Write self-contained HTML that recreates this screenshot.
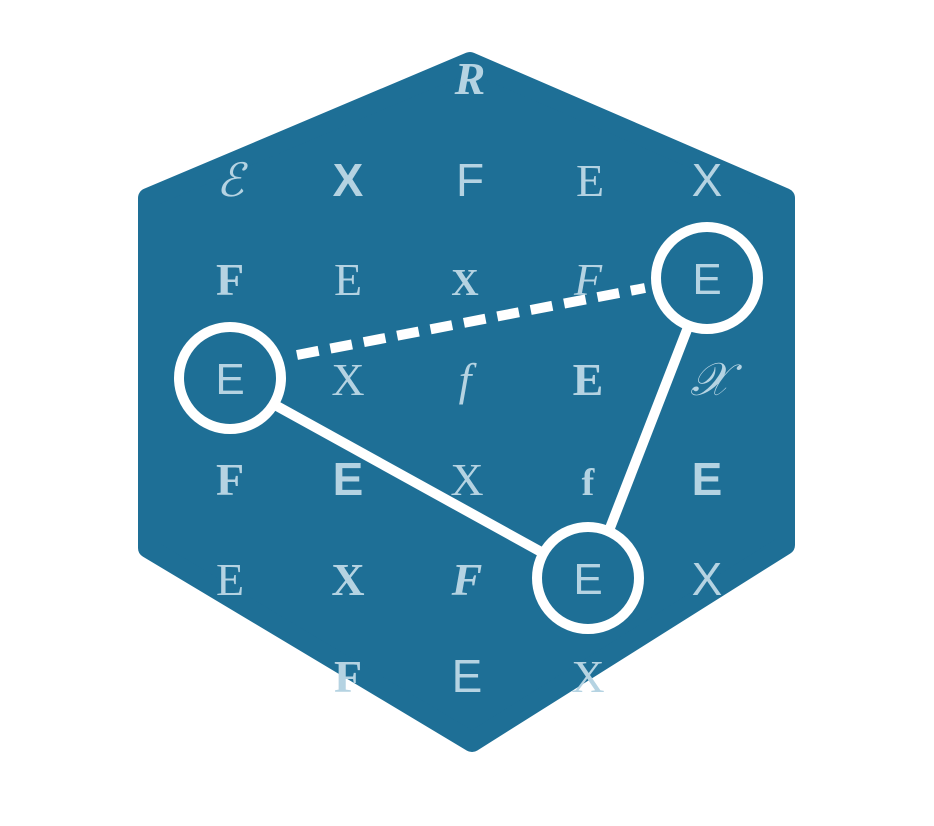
<!DOCTYPE html>
<html><head><style>body{margin:0;background:#fff}</style></head><body>
<svg width="934" height="821" viewBox="0 0 934 821" xmlns="http://www.w3.org/2000/svg">
<path d="M470,62 L785,198 L785,545 L472,742 L148,548 L148,198 Z" fill="#1e6f96" stroke="#1e6f96" stroke-width="20" stroke-linejoin="round"/>
<g fill="#b5d3e2" font-size="46" text-anchor="middle" font-family="Liberation Serif, serif">
<text x="470" y="94" font-style="italic" font-weight="bold">R</text>
<text x="230" y="196" font-style="italic">ℰ</text><text x="348" y="196" font-weight="bold" font-family="Liberation Sans, sans-serif">X</text><text x="470" y="196" font-family="Liberation Sans, sans-serif">F</text><text x="590" y="196">E</text><text x="707" y="196" font-family="Liberation Sans, sans-serif">X</text>
<text x="230" y="295" font-weight="bold">F</text><text x="348" y="295">E</text><text x="465" y="295" font-weight="bold" font-size="38">X</text><text x="588" y="295" font-style="italic">F</text>
<text x="348" y="395">X</text><text x="465" y="395" font-style="italic">f</text><text x="588" y="395" font-weight="bold">E</text><text x="710" y="395" font-style="italic">𝒳</text>
<text x="230" y="495" font-weight="bold">F</text><text x="348" y="495" font-weight="bold" font-family="Liberation Sans, sans-serif">E</text><text x="467" y="495">X</text><text x="588" y="495" font-weight="bold" font-size="38">f</text><text x="707" y="495" font-weight="bold" font-family="Liberation Sans, sans-serif">E</text>
<text x="230" y="595">E</text><text x="348" y="595" font-weight="bold">X</text><text x="467" y="595" font-style="italic" font-weight="bold">F</text><text x="707" y="595" font-family="Liberation Sans, sans-serif">X</text>
<text x="348" y="692" font-weight="bold">F</text><text x="467" y="692" font-family="Liberation Sans, sans-serif">E</text><text x="588" y="692">X</text>
</g>
<g stroke="#fff" stroke-width="10" fill="none">
<line x1="275" y1="405" x2="543" y2="553"/>
<line x1="690" y1="322" x2="610" y2="528"/>
<line x1="297" y1="355" x2="645" y2="288" stroke-dasharray="22,12"/>
<circle cx="230" cy="378" r="51"/><circle cx="707" cy="278" r="51"/><circle cx="588" cy="578" r="51"/>
</g>
<g fill="#b5d3e2" font-size="44" text-anchor="middle" font-family="Liberation Sans, sans-serif">
<text x="230" y="394">E</text><text x="707" y="294">E</text><text x="588" y="594">E</text>
</g>
</svg>
</body></html>
